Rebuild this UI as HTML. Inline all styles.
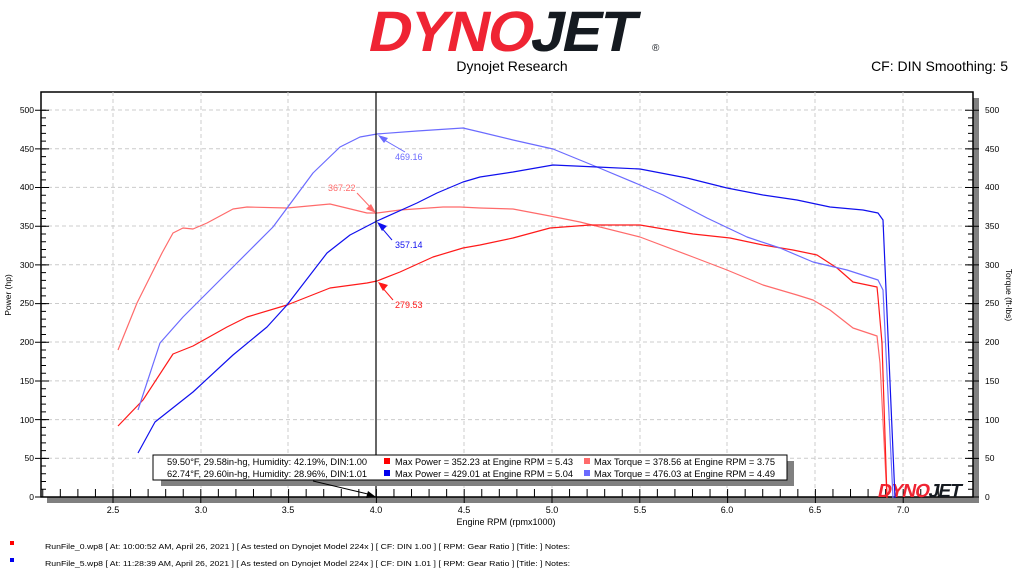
<!DOCTYPE html>
<html><head><meta charset="utf-8"><style>
body{margin:0;background:#fff;width:1024px;height:576px;overflow:hidden;font-family:"Liberation Sans","DejaVu Sans",sans-serif}
</style></head><body>
<svg width="1024" height="576" viewBox="0 0 1024 576" xmlns="http://www.w3.org/2000/svg" font-family="Liberation Sans, DejaVu Sans, sans-serif">
<g transform="translate(366,51) skewX(-12)">
<text x="0" y="0" font-size="57" font-weight="bold" transform="scale(1.04,1)" letter-spacing="-2"><tspan fill="#ef2433">DYNO</tspan><tspan fill="#151a20">JET</tspan></text>
</g>
<text x="652" y="51" font-size="10" fill="#151a20">®</text>
<text x="512" y="71" font-size="14" text-anchor="middle" fill="#000">Dynojet Research</text>
<text x="1008" y="71" font-size="14" text-anchor="end" fill="#000">CF: DIN Smoothing: 5</text>
<rect x="973" y="98" width="6" height="405" fill="#808080"/>
<rect x="47" y="497" width="932" height="6" fill="#808080"/>
<rect x="41" y="92" width="932" height="405" fill="#fff" stroke="#000" stroke-width="1.5"/>
<g stroke="#cccccc" stroke-dasharray="4,3" stroke-width="1">
<line x1="41" x2="973" y1="110" y2="110"/><line x1="41" x2="973" y1="148.7" y2="148.7"/><line x1="41" x2="973" y1="187.4" y2="187.4"/><line x1="41" x2="973" y1="226" y2="226"/><line x1="41" x2="973" y1="264.8" y2="264.8"/><line x1="41" x2="973" y1="303.5" y2="303.5"/><line x1="41" x2="973" y1="342" y2="342"/><line x1="41" x2="973" y1="380.9" y2="380.9"/><line x1="41" x2="973" y1="419.6" y2="419.6"/><line x1="41" x2="973" y1="458.3" y2="458.3"/>
<line y1="92" y2="497" x1="113" x2="113"/><line y1="92" y2="497" x1="201" x2="201"/><line y1="92" y2="497" x1="288" x2="288"/><line y1="92" y2="497" x1="464" x2="464"/><line y1="92" y2="497" x1="552" x2="552"/><line y1="92" y2="497" x1="640" x2="640"/><line y1="92" y2="497" x1="727" x2="727"/><line y1="92" y2="497" x1="815" x2="815"/><line y1="92" y2="497" x1="903" x2="903"/>
</g>
<g stroke="#000" stroke-width="1" fill="none">
<path d="M41 497h5m-5-7.736h5m-5-7.736h5m-5-7.736h5m-5-7.736h5m-5-7.736h5m-5-7.736h5m-5-7.736h5m-5-7.736h5m-5-7.736h5m-5-7.736h5m-5-7.736h5m-5-7.736h5m-5-7.736h5m-5-7.736h5m-5-7.736h5m-5-7.736h5m-5-7.736h5m-5-7.736h5m-5-7.736h5m-5-7.736h5m-5-7.736h5m-5-7.736h5m-5-7.736h5m-5-7.736h5m-5-7.736h5m-5-7.736h5m-5-7.736h5m-5-7.736h5m-5-7.736h5m-5-7.736h5m-5-7.736h5m-5-7.736h5m-5-7.736h5m-5-7.736h5m-5-7.736h5m-5-7.736h5m-5-7.736h5m-5-7.736h5m-5-7.736h5m-5-7.736h5m-5-7.736h5m-5-7.736h5m-5-7.736h5m-5-7.736h5m-5-7.736h5m-5-7.736h5m-5-7.736h5m-5-7.736h5m-5-7.736h5m-5-7.736h5"/>
<path d="M35 497h14m-14-38.68h14m-14-38.68h14m-14-38.68h14m-14-38.68h14m-14-38.68h14m-14-38.68h14m-14-38.68h14m-14-38.68h14m-14-38.68h14m-14-38.68h14"/>
<path d="M973 497h-5m5-7.736h-5m5-7.736h-5m5-7.736h-5m5-7.736h-5m5-7.736h-5m5-7.736h-5m5-7.736h-5m5-7.736h-5m5-7.736h-5m5-7.736h-5m5-7.736h-5m5-7.736h-5m5-7.736h-5m5-7.736h-5m5-7.736h-5m5-7.736h-5m5-7.736h-5m5-7.736h-5m5-7.736h-5m5-7.736h-5m5-7.736h-5m5-7.736h-5m5-7.736h-5m5-7.736h-5m5-7.736h-5m5-7.736h-5m5-7.736h-5m5-7.736h-5m5-7.736h-5m5-7.736h-5m5-7.736h-5m5-7.736h-5m5-7.736h-5m5-7.736h-5m5-7.736h-5m5-7.736h-5m5-7.736h-5m5-7.736h-5m5-7.736h-5m5-7.736h-5m5-7.736h-5m5-7.736h-5m5-7.736h-5m5-7.736h-5m5-7.736h-5m5-7.736h-5m5-7.736h-5m5-7.736h-5m5-7.736h-5"/>
<path d="M979 497h-14m14-38.68h-14m14-38.68h-14m14-38.68h-14m14-38.68h-14m14-38.68h-14m14-38.68h-14m14-38.68h-14m14-38.68h-14m14-38.68h-14m14-38.68h-14"/>
<path d="M42.76 497v-8m17.56 8v-8m17.56 8v-8m17.56 8v-8m17.56 8v-8m17.56 8v-8m17.56 8v-8m17.56 8v-8m17.56 8v-8m17.56 8v-8m17.56 8v-8m17.56 8v-8m17.56 8v-8m17.56 8v-8m17.56 8v-8m17.56 8v-8m17.56 8v-8m17.56 8v-8m17.56 8v-8m17.56 8v-8m17.56 8v-8m17.56 8v-8m17.56 8v-8m17.56 8v-8m17.56 8v-8m17.56 8v-8m17.56 8v-8m17.56 8v-8m17.56 8v-8m17.56 8v-8m17.56 8v-8m17.56 8v-8m17.56 8v-8m17.56 8v-8m17.56 8v-8m17.56 8v-8m17.56 8v-8m17.56 8v-8m17.56 8v-8m17.56 8v-8m17.56 8v-8m17.56 8v-8m17.56 8v-8m17.56 8v-8m17.56 8v-8m17.56 8v-8m17.56 8v-8m17.56 8v-8m17.56 8v-8m17.56 8v-8m17.56 8v-8m17.56 8v-8"/>
<path d="M113 497v6m87.8-6v6m87.8-6v6m87.8-6v6m87.8-6v6m87.8-6v6m87.8-6v6m87.8-6v6m87.8-6v6m87.8-6v6"/>
</g>
<g font-size="8.5" fill="#000" text-anchor="end">
<text x="34" y="113">500</text><text x="34" y="152">450</text><text x="34" y="190">400</text><text x="34" y="229">350</text><text x="34" y="268">300</text><text x="34" y="306">250</text><text x="34" y="345">200</text><text x="34" y="384">150</text><text x="34" y="423">100</text><text x="34" y="461">50</text><text x="34" y="500">0</text>
</g>
<g font-size="8.5" fill="#000">
<text x="985" y="113">500</text><text x="985" y="152">450</text><text x="985" y="190">400</text><text x="985" y="229">350</text><text x="985" y="268">300</text><text x="985" y="306">250</text><text x="985" y="345">200</text><text x="985" y="384">150</text><text x="985" y="423">100</text><text x="985" y="461">50</text><text x="985" y="500">0</text>
</g>
<g font-size="9" fill="#000" text-anchor="middle">
<text x="113" y="513">2.5</text><text x="201" y="513">3.0</text><text x="288" y="513">3.5</text><text x="376" y="513">4.0</text><text x="464" y="513">4.5</text><text x="552" y="513">5.0</text><text x="640" y="513">5.5</text><text x="727" y="513">6.0</text><text x="815" y="513">6.5</text><text x="903" y="513">7.0</text>
<text x="506" y="525" font-size="9">Engine RPM (rpmx1000)</text>
</g>
<text transform="translate(11,295) rotate(-90)" font-size="8.5" text-anchor="middle">Power (hp)</text>
<text transform="translate(1006,295) rotate(90)" font-size="8.5" text-anchor="middle">Torque (ft-lbs)</text>
<g transform="translate(877,497) skewX(-12)"><text font-size="19" font-weight="bold" letter-spacing="-1"><tspan fill="#ef2433">DYNO</tspan><tspan fill="#151a20">JET</tspan></text></g>
<g fill="none" stroke-linejoin="round">
<polyline stroke="#ff6b6b" stroke-width="1.2" points="118,350 137,303 162,253 173,233 183,228 193,229 207,223 233,209 247,207 287,208 330,204 367,213 377,213 400,210 443,207 460,207 480,208 513,209 550,216 580,222 640,237 693,257 727,270 763,285 797,295 813,300 830,310 853,328 877,336 880,363 885,460 887,498"/>
<polyline stroke="#ff1a1a" stroke-width="1.2" points="118,426 143,400 173,354 193,346 227,327 247,317 287,305 330,288 367,283 377,281 400,272 433,257 463,248 480,245 513,238 550,228 590,225 640,225 693,234 730,238 763,245 793,250 817,255 837,268 853,282 877,287 878,297 882,343 887,498"/>
<polyline stroke="#6b6bff" stroke-width="1.2" points="138,410 160,343 183,317 227,273 250,250 273,227 313,173 340,147 360,137 377,134 417,131 463,128 480,132 513,140 553,149 597,167 640,185 663,195 707,218 747,237 780,248 813,262 847,270 878,280 883,290 893,498"/>
<polyline stroke="#1010ee" stroke-width="1.2" points="138,453 155,422 193,392 233,355 267,327 287,305 327,253 350,235 377,221 417,203 437,193 463,182 480,177 513,172 553,165 597,167 640,169 687,178 727,188 763,195 797,200 830,207 863,210 878,213 883,220 895,498"/>
</g>
<line x1="376" y1="92" x2="376" y2="497" stroke="#000" stroke-width="1.2"/>
<g font-size="9">
<line x1="405" y1="152" x2="381" y2="138" stroke="#6b6bff"/><polygon points="378,135 388,138 384,143" fill="#6b6bff"/>
<text x="395" y="160" fill="#6b6bff">469.16</text>
<line x1="357" y1="193" x2="373" y2="210" stroke="#ff6b6b"/><polygon points="376,213 366,209 371,204" fill="#ff6b6b"/>
<text x="328" y="191" fill="#ff6b6b">367.22</text>
<line x1="392" y1="240" x2="380" y2="226" stroke="#1010ee"/><polygon points="377,222 387,226 382,231" fill="#1010ee"/>
<text x="395" y="248" fill="#1010ee">357.14</text>
<line x1="393" y1="300" x2="381" y2="286" stroke="#ff1a1a"/><polygon points="378,282 388,285 383,291" fill="#ff1a1a"/>
<text x="395" y="308" fill="#ff1a1a">279.53</text>
</g>
<rect x="161" y="461" width="633" height="25" fill="#808080"/>
<rect x="153" y="455" width="634" height="25" fill="#fff" stroke="#000"/>
<g font-size="9.5" fill="#000">
<text x="167" y="465" textLength="200" lengthAdjust="spacingAndGlyphs">59.50°F, 29.58in-hg, Humidity: 42.19%, DIN:1.00</text>
<text x="167" y="477" textLength="200" lengthAdjust="spacingAndGlyphs">62.74°F, 29.60in-hg, Humidity: 28.96%, DIN:1.01</text>
<rect x="384" y="458" width="6" height="6" fill="#ff0000"/><text x="395" y="465" textLength="178" lengthAdjust="spacingAndGlyphs">Max Power = 352.23 at Engine RPM = 5.43</text>
<rect x="384" y="470" width="6" height="6" fill="#0000ee"/><text x="395" y="477" textLength="178" lengthAdjust="spacingAndGlyphs">Max Power = 429.01 at Engine RPM = 5.04</text>
<rect x="584" y="458" width="6" height="6" fill="#ff6b6b"/><text x="594" y="465" textLength="181" lengthAdjust="spacingAndGlyphs">Max Torque = 378.56 at Engine RPM = 3.75</text>
<rect x="584" y="470" width="6" height="6" fill="#6b6bff"/><text x="594" y="477" textLength="181" lengthAdjust="spacingAndGlyphs">Max Torque = 476.03 at Engine RPM = 4.49</text>
</g>
<line x1="313" y1="481" x2="372" y2="495" stroke="#000"/><polygon points="376,497 366,498 368,491" fill="#000"/>
<rect x="10" y="541" width="4" height="4" fill="#ff0000"/>
<rect x="10" y="558" width="4" height="4" fill="#0000ee"/>
<g font-size="7.5" fill="#000">
<text x="45" y="549" textLength="525" lengthAdjust="spacingAndGlyphs">RunFile_0.wp8  [ At: 10:00:52 AM, April 26, 2021 ]  [ As tested on Dynojet Model 224x ]  [ CF: DIN 1.00 ]  [ RPM: Gear Ratio ]  [Title: ]   Notes:</text>
<text x="45" y="566" textLength="525" lengthAdjust="spacingAndGlyphs">RunFile_5.wp8  [ At: 11:28:39 AM, April 26, 2021 ]  [ As tested on Dynojet Model 224x ]  [ CF: DIN 1.01 ]  [ RPM: Gear Ratio ]  [Title: ]   Notes:</text>
</g>
</svg>
</body></html>
